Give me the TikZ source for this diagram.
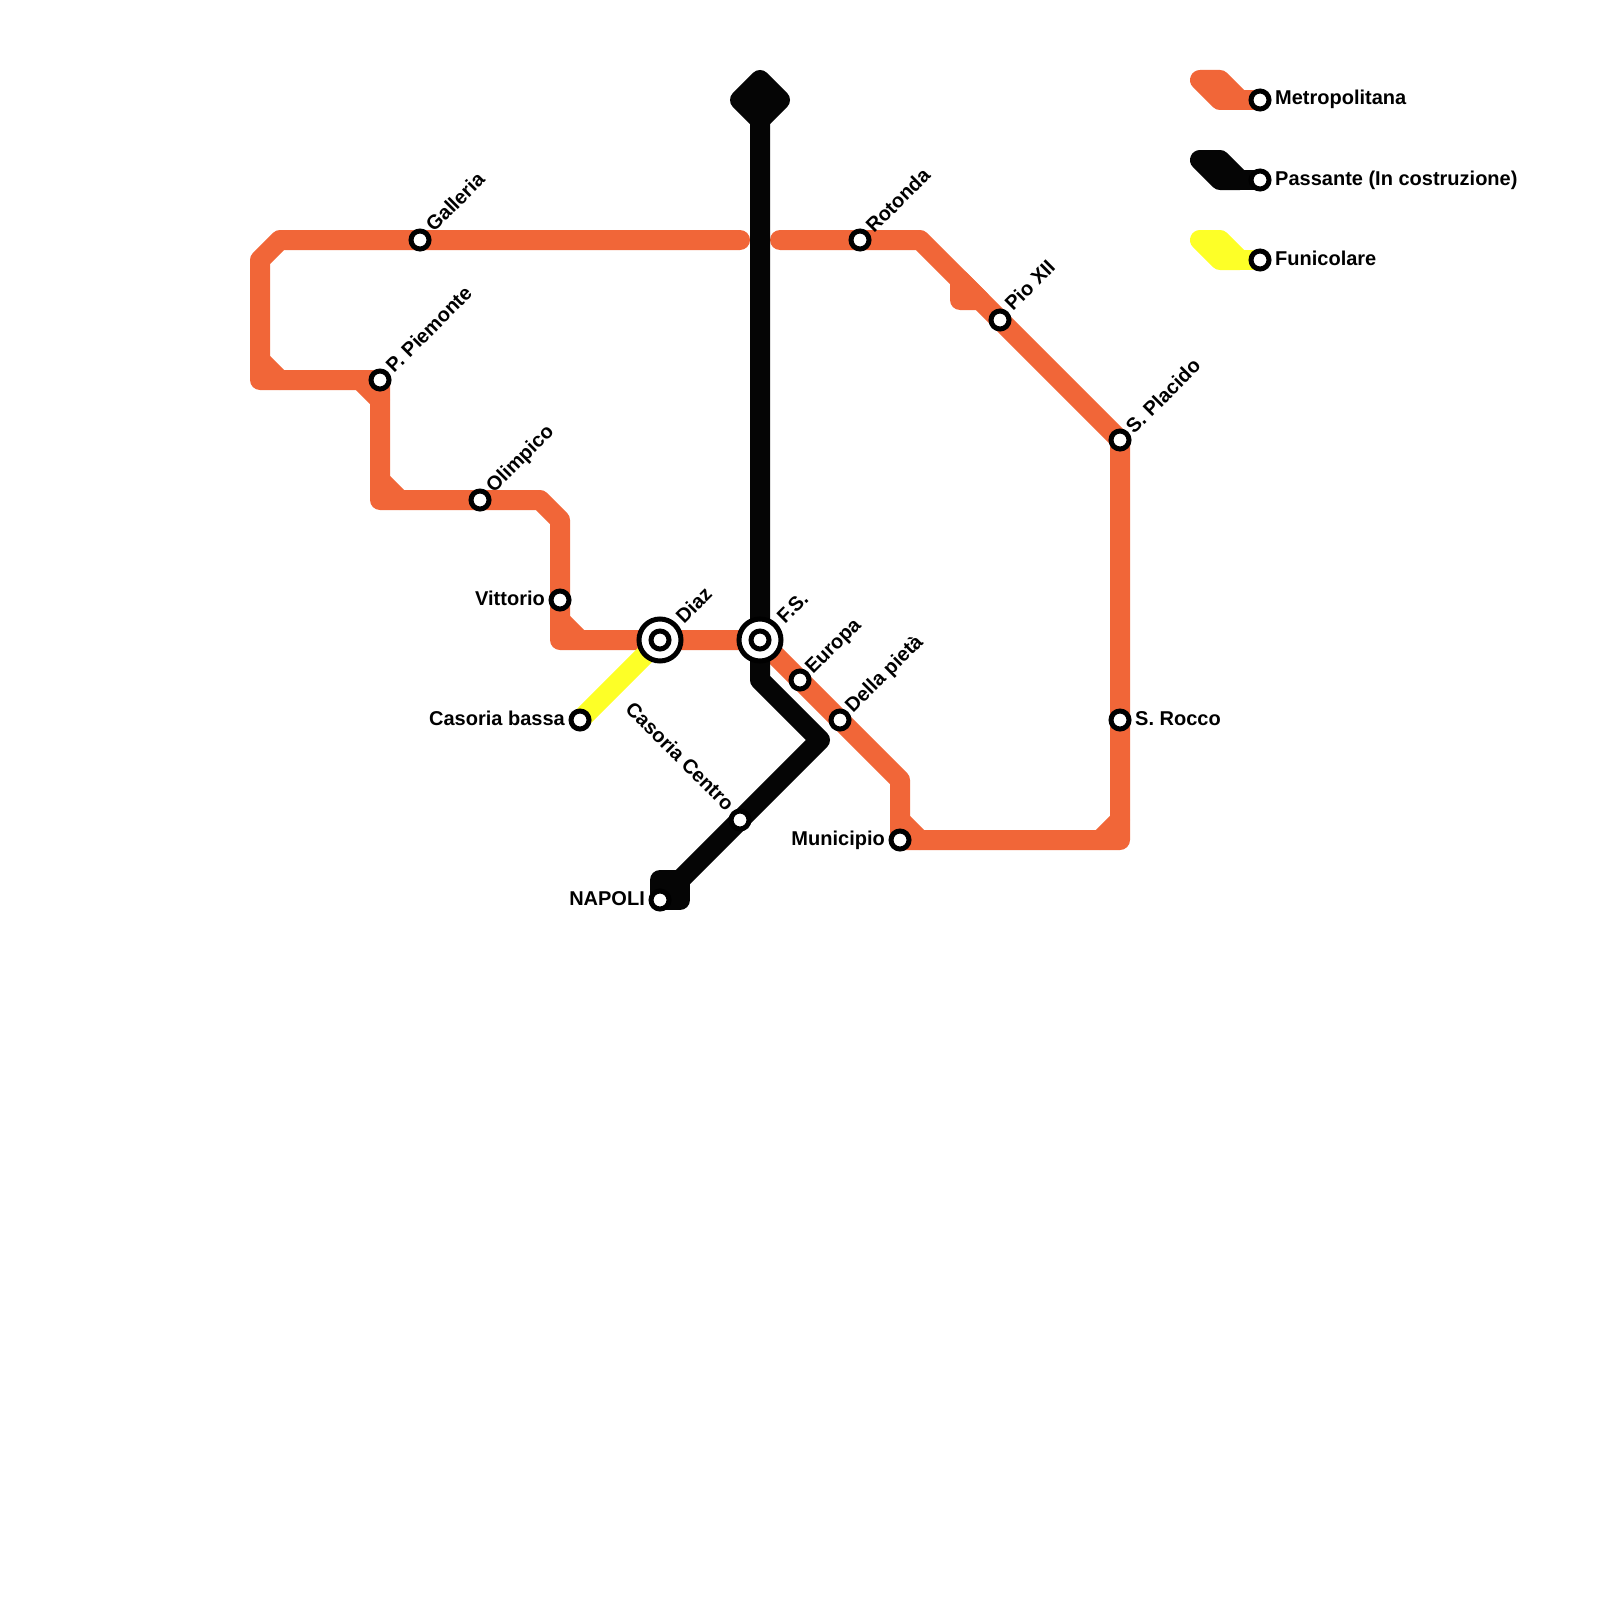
\documentclass[tikz,border=0pt]{standalone}
\usepackage{fontspec}
\setmainfont{Liberation Sans}
\usepackage{tikz}
\usetikzlibrary{backgrounds}
\definecolor{metroRed}{HTML}{F16638}
\definecolor{passBlack}{HTML}{050505}
\definecolor{funiYellow}{HTML}{FDFF27}
\tikzset{
  metro/.style={draw=metroRed,line width=20pt,line join=round,line cap=round},
  passante/.style={draw=passBlack,line width=20pt,line join=round,line cap=round},
  funi/.style={draw=funiYellow,line width=20pt,line join=round,line cap=round},
  stn/.style={circle,draw=black,fill=white,line width=5pt,minimum size=18pt,inner sep=0pt},
  hub/.style={circle,draw=black,fill=white,line width=5pt,minimum size=42pt,inner sep=0pt},
  stnlbl/.style={font=\fontsize{20}{22}\selectfont\bfseries,inner sep=0pt},
  lblR/.style={stnlbl,anchor=base west},
  lblL/.style={stnlbl,anchor=base east},
  lblUp/.style={stnlbl,anchor=base west,rotate=45}
}
\begin{document}
\begin{tikzpicture}[x=1pt,y=-1pt]
  \useasboundingbox (0,0) rectangle (1600,1600);
  % stations
  \node[stn] (galleria) at (420,240){};
  \node[stn] (piemonte) at (380,380){};
  \node[stn] (olimpico) at (480,500){};
  \node[stn] (vittorio) at (560,600){};
  \node[hub] (diaz) at (660,640){};
  \node[stn] (diazIn) at (660,640){};
  \node[hub] (fs) at (760,640){};
  \node[stn] (fsIn) at (760,640){};
  \node[stn] (europa) at (800,680){};
  \node[stn] (pieta) at (840,720){};
  \node[stn] (municipio) at (900,840){};
  \node[stn] (rocco) at (1120,720){};
  \node[stn] (placido) at (1120,440){};
  \node[stn] (pio) at (1000,320){};
  \node[stn] (rotonda) at (860,240){};
  \node[stn] (bassa) at (580,720){};
  \node[stn] (centro) at (740,820){};
  \node[stn] (napoli) at (660,900){};
  \node[stn] (keyMetro) at (1260,100){};
  \node[stn] (keyPass) at (1260,180){};
  \node[stn] (keyFuni) at (1260,260){};
  % lines
  \begin{scope}[on background layer]
    \draw[metro] (740,240)--(galleria.center)--(280,240)--(260,260)--(260,380)--(piemonte.center)--(380,500)--(olimpico.center)--(540,500)--(560,520)--(vittorio.center)--(560,640)--(diaz.center)--(fs.center);
    \draw[metro] (260,360)--(280,380);
    \draw[metro] (360,380)--(380,400);
    \draw[metro] (380,480)--(400,500);
    \draw[metro] (560,620)--(580,640);
    \draw[metro] (fs.center)--(europa.center)--(pieta.center)--(900,780)--(municipio.center)--(1120,840)--(rocco.center)--(placido.center)--(pio.center)--(920,240)--(rotonda.center)--(780,240);
    \draw[metro] (900,820)--(920,840);
    \draw[metro] (1100,840)--(1120,820);
    \draw[metro,fill=metroRed] (960,280)--(960,300)--(980,300)--cycle;
    \draw[funi] (diaz.center)--(bassa.center);
    \draw[passante] (760,100)--(fs.center)--(760,680)--(820,740)--(centro.center)--(680,880);
    \draw[passante,fill=passBlack] (760,80)--(740,100)--(760,120)--(780,100)--cycle;
    \draw[passante,fill=passBlack] (660,880)--(680,880)--(680,900)--(napoli.center)--cycle;
    % key
    \draw[metro,fill=metroRed] (1200,80)--(1220,80)--(1240,100)--(1220,100)--cycle;
    \draw[metro] (1240,100)--(keyMetro.center);
    \draw[passante,fill=passBlack] (1200,160)--(1220,160)--(1240,180)--(1220,180)--cycle;
    \draw[passante] (1240,180)--(keyPass.center);
    \draw[funi,fill=funiYellow] (1200,240)--(1220,240)--(1240,260)--(1220,260)--cycle;
    \draw[funi] (1240,260)--(keyFuni.center);
  \end{scope}
  % labels
  \node[lblUp] (galleriaLbl) at (434,233){Galleria};
  \node[lblUp] (piemonteLbl) at (394,374){P. Piemonte};
  \node[lblUp] (olimpicoLbl) at (494,494){Olimpico};
  \node[lblUp] (diazLbl) at (684,625){Diaz};
  \node[lblUp] (fsLbl) at (785,625){F.S.};
  \node[lblUp] (europaLbl) at (813,675){Europa};
  \node[lblUp] (pietaLbl) at (853,714){Della pietà};
  \node[lblUp] (rotondaLbl) at (874,234){Rotonda};
  \node[lblUp] (pioLbl) at (1013,312){Pio XII};
  \node[lblUp] (placidoLbl) at (1134,435){S. Placido};
  \node[lblR] (roccoLbl) at (1135,725){S. Rocco};
  \node[lblL] (vittorioLbl) at (545,605){Vittorio};
  \node[lblL] (bassaLbl) at (565,725){Casoria bassa};
  \node[lblL] (municipioLbl) at (885,845){Municipio};
  \node[lblL] (napoliLbl) at (645,905){NAPOLI};
  \node[stnlbl,anchor=base east,rotate=-45] (centroLbl) at (726,812){Casoria Centro};
  \node[lblR] (keyMetroLbl) at (1275,105){Metropolitana};
  \node[lblR] (keyPassLbl) at (1275,185){Passante (In costruzione)};
  \node[lblR] (keyFuniLbl) at (1275,265){Funicolare};
\end{tikzpicture}
\end{document}
